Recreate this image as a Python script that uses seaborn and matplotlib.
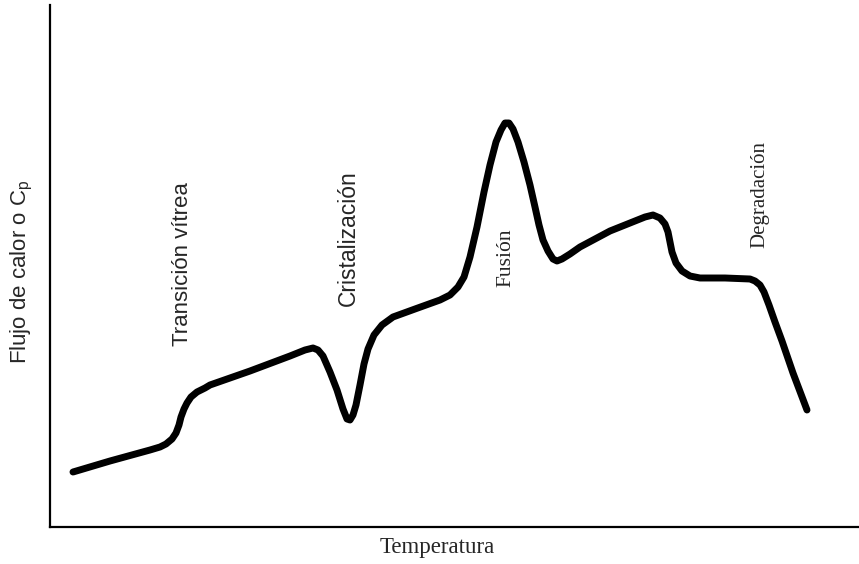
import numpy as np
import pandas as pd
import matplotlib
matplotlib.use("Agg")
import matplotlib.pyplot as plt
import seaborn as sns

# DSC curve (arbitrary units: temperature, heat flow)
temperatura = [23, 60, 100, 110, 116, 122, 126, 129, 131, 134, 137, 141,
               147, 155, 160, 200, 240, 255, 263, 268, 273, 280, 287, 293,
               297, 300, 303, 306, 310, 314, 318, 324, 332, 343, 365, 390,
               400, 408, 414, 420, 427, 434, 440, 446, 451, 455, 459, 463,
               468, 474, 480, 485, 489, 493, 498, 503, 507, 512, 520, 530,
               545, 560, 580, 595, 603, 610, 615, 618, 620, 622, 626, 632,
               640, 650, 675, 700, 705, 710, 714, 719, 725, 732, 743, 757]
flujo = [55, 66, 77, 80, 83, 88, 94, 102, 110, 118, 124, 130,
         135, 139, 142, 156, 171, 177, 179, 177, 171, 155, 137, 118,
         108, 107, 112, 122, 142, 163, 178, 192, 202, 210, 218, 227,
         232, 240, 250, 270, 300, 335, 362, 385, 397, 404, 404, 398,
         385, 365, 342, 320, 302, 287, 276, 268, 266, 268, 273, 280,
         288, 296, 304, 310, 312, 309, 303, 295, 285, 275, 264, 256,
         251, 249, 249, 248, 246, 242, 235, 222, 205, 186, 154, 117]

etiquetas = ["Transición vítrea", "Cristalización", "Fusión", "Degradación"]
etiq_x = [133, 298, 456, 710]
etiq_y = [263, 289, 269, 333]

df = pd.DataFrame({"Temperatura": temperatura, "Flujo": flujo})

sns.set_style("white")
plt.rcParams["font.family"] = ["Liberation Sans", "DejaVu Sans"]
plt.rcParams["mathtext.default"] = "regular"

fig = plt.figure(figsize=(8.59, 5.64), dpi=100)
ax = fig.add_axes([50 / 859, 37 / 564, 809 / 859, 522 / 564])

sns.lineplot(data=df, x="Temperatura", y="Flujo", sort=False, estimator=None,
             color="black", linewidth=5, ax=ax,
             solid_capstyle="round", solid_joinstyle="round")

ax.set_xlim(0, 809)
ax.set_ylim(0, 522)
ax.set_xticks([])
ax.set_yticks([])
sns.despine(ax=ax)
for s in ["left", "bottom"]:
    ax.spines[s].set_linewidth(1.6)
    ax.spines[s].set_color("black")

ax.set_xlabel("")
ax.set_ylabel("")
fig.text(437 / 859, 1 - 548 / 564, "Temperatura", ha="center", va="center",
         fontsize=16.5, family="Liberation Serif")
fig.text(22 / 859, 1 - 272 / 564, r"Flujo de calor o C$_p$", ha="center", va="center",
         rotation=90, fontsize=16)

fuentes = ["Liberation Sans", "Liberation Sans", "Liberation Serif", "Liberation Serif"]
tamanos = [16, 16.5, 15.5, 15]
for t, x, y, f, s in zip(etiquetas, etiq_x, etiq_y, fuentes, tamanos):
    ax.text(x, y, t, rotation=90, ha="center", va="center", fontsize=s, family=f)

fig.savefig("out.png", dpi=100, facecolor="white")
